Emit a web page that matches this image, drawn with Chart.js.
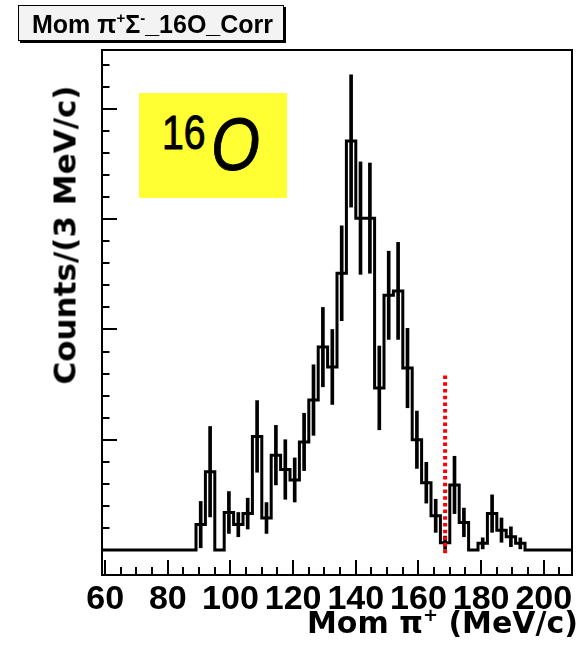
<!DOCTYPE html>
<html>
<head>
<meta charset="utf-8">
<script src="https://cdn.jsdelivr.net/npm/chart.js@4.4.1/dist/chart.umd.min.js"></script>
<style>
html,body{margin:0;padding:0;background:#fff;}
#wrap{position:relative;width:583px;height:648px;overflow:hidden;background:#fff;}
#c{position:absolute;left:0;top:0;}
.histTitle{position:absolute;left:18px;top:5px;width:266px;height:36px;box-sizing:border-box;background:#f3f3f3;border:1px solid #000;box-shadow:2px 2px 0 #000;font-family:"Liberation Sans",Arial,sans-serif;font-weight:bold;font-size:25px;line-height:33px;padding-top:2px;padding-left:13px;white-space:nowrap;color:#000;}
.sup{font-size:0.6em;position:relative;top:-0.65em;}
.nucBox{position:absolute;left:139px;top:93px;width:148px;height:105px;background:#ffff33;}
.nucA{position:absolute;left:162px;top:108px;font-family:"Liberation Sans",Arial,sans-serif;font-size:49px;line-height:1;transform:scaleX(0.8);transform-origin:left top;color:#000;white-space:nowrap;-webkit-text-stroke:1px #000;}
.nucO{position:absolute;left:211px;top:108px;font-family:"Liberation Sans",Arial,sans-serif;font-style:italic;font-size:74px;line-height:1;transform:scaleX(0.85);transform-origin:left top;color:#000;white-space:nowrap;-webkit-text-stroke:1px #000;}
.xTitle{position:absolute;right:5px;top:608px;font-family:"DejaVu Sans",sans-serif;font-weight:bold;font-size:30px;line-height:1;white-space:nowrap;color:#000;}
.yTitle{position:absolute;left:65px;top:235px;transform:translate(-50%,-50%) rotate(-90deg);font-family:"DejaVu Sans",sans-serif;font-weight:bold;font-size:31px;line-height:1;white-space:nowrap;color:#000;}
</style>
</head>
<body>
<div id="wrap">
  <canvas id="c" width="583" height="648"></canvas>
  <div class="histTitle">Mom π<span class="sup">+</span>Σ<span class="sup">-</span>_16O_Corr</div>
  <div class="nucBox"></div>
  <div class="nucA">16</div>
  <div class="nucO">O</div>
  <div class="yTitle">Counts/(3 MeV/c)</div>
  <div class="xTitle">Mom π<span class="sup">+</span> (MeV/c)</div>
</div>
<script>
// ---- data ----
const momBinCenters = [
  60.5, 63.5, 66.5, 69.5, 72.5, 75.5, 78.5, 81.5, 84.5, 87.5,
  90.5, 93.5, 96.5, 99.5, 102.5, 105.5, 108.5, 111.5, 114.5, 117.5,
  120.5, 123.5, 126.5, 129.5, 132.5, 135.5, 138.5, 141.5, 144.5, 147.5,
  150.5, 153.5, 156.5, 159.5, 162.5, 165.5, 168.5, 171.5, 174.5, 177.5,
  180.5, 183.5, 186.5, 189.5, 192.5, 195.5, 198.5, 201.5, 204.5, 207.5
];
const counts = [
  0, 0, 0, 0, 0, 0, 0, 0, 0, 0,
  2.3, 7.1, 0, 3.4, 2.3, 3.3, 10.3, 2.9, 8.6, 7.3,
  6.35, 9.8, 13.6, 18.4, 16.6, 25.1, 37.1, 30.1, 30.1, 14.7,
  23.1, 23.5, 16.5, 10.0, 6.1, 3.1, 0.66, 5.9, 2.5, 0,
  0.6, 3.3, 1.8, 1.2, 0.6, 0, 0, 0, 0, 0
];
const errors = [
  0, 0, 0, 0, 0, 0, 0, 0, 0, 0,
  2.1, 4.1, 0, 1.9, 1.1, 1.4, 3.25, 1.4, 2.7, 2.7,
  2.0, 2.6, 3.2, 3.6, 3.4, 4.3, 6.0, 5.1, 5.0, 3.8,
  4.0, 4.4, 3.6, 2.6, 1.85, 1.5, 0.6, 2.6, 1.3, 0,
  0.5, 1.7, 1.1, 0.9, 0.5, 0, 0, 0, 0, 0
];
const binWidth = 3;
const xRange = [59, 209];
const yRange = [-2.27, 45.35];
const xTickLabels = [60, 80, 100, 120, 140, 160, 180, 200];
const yMajorTicks = [0, 10, 20, 30, 40];
const cutMomentum = 168.5;
const cutLineSpan = [-0.3, 16.1];

// ---- build datasets from the arrays ----
const histPoints = momBinCenters.map((c, i) => ({x: c - binWidth / 2, y: counts[i]}));
histPoints.push({x: momBinCenters[momBinCenters.length - 1] + binWidth / 2, y: counts[counts.length - 1]});
const errorBars = [];
momBinCenters.forEach((c, i) => {
  if (counts[i] > 0) errorBars.push({x: c, y: [counts[i] - errors[i], counts[i] + errors[i]]});
});
const cutLine = cutLineSpan.map(v => ({x: cutMomentum, y: v}));

const frameTicks = {
  id: 'frameTicks',
  afterDatasetsDraw(chart) {
    const {ctx, chartArea: a, scales: {x, y}} = chart;
    ctx.save();
    ctx.strokeStyle = '#000';
    ctx.lineWidth = 2;
    ctx.beginPath();
    for (let v = 60; v <= 205; v += 5) {
      const px = Math.round(x.getPixelForValue(v));
      const len = xTickLabels.includes(v) ? 15 : 8;
      ctx.moveTo(px, a.bottom);
      ctx.lineTo(px, a.bottom - len);
    }
    for (let v = 0; v <= 44; v += 2) {
      const py = Math.round(y.getPixelForValue(v));
      const len = yMajorTicks.includes(v) ? 15 : 7.5;
      ctx.moveTo(a.left, py);
      ctx.lineTo(a.left + len, py);
    }
    ctx.stroke();
    ctx.strokeRect(a.left, a.top, a.right - a.left, a.bottom - a.top);
    ctx.restore();
  }
};

new Chart(document.getElementById('c'), {
  type: 'line',
  data: {
    datasets: [
      {
        type: 'line',
        data: histPoints,
        borderColor: '#000',
        borderWidth: 3,
        stepped: true,
        pointRadius: 0,
        fill: false,
        order: 2
      },
      {
        type: 'bar',
        data: errorBars,
        backgroundColor: '#000',
        borderWidth: 0,
        barThickness: 3,
        order: 3
      },
      {
        type: 'line',
        data: cutLine,
        borderColor: '#ff0000',
        borderWidth: 4,
        borderDash: [3.5, 3.2],
        borderCapStyle: 'butt',
        pointRadius: 0,
        fill: false,
        order: 1
      }
    ]
  },
  options: {
    responsive: false,
    animation: false,
    events: [],
    layout: {padding: {left: 102, right: 11, top: 50, bottom: 23}},
    plugins: {legend: {display: false}, tooltip: {enabled: false}, title: {display: false}},
    scales: {
      x: {
        type: 'linear',
        min: xRange[0],
        max: xRange[1],
        offset: false,
        grid: {display: false, drawTicks: false},
        border: {display: false},
        afterBuildTicks: (scale) => { scale.ticks = xTickLabels.map(v => ({value: v})); },
        ticks: {
          autoSkip: false,
          maxRotation: 0,
          minRotation: 0,
          padding: 4.6,
          color: '#000',
          font: {family: "'Liberation Sans', Arial, sans-serif", size: 34, weight: 'bold'}
        }
      },
      y: {
        type: 'linear',
        min: yRange[0],
        max: yRange[1],
        display: false
      }
    }
  },
  plugins: [frameTicks]
});
</script>
</body>
</html>
